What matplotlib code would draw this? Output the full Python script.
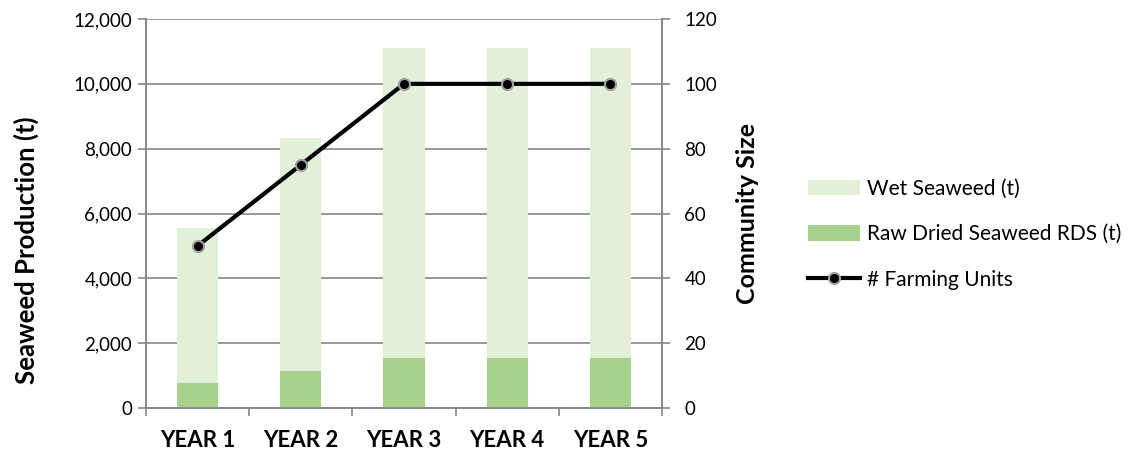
import matplotlib.pyplot as plt
import numpy as np
from matplotlib.ticker import FuncFormatter, FixedLocator
from matplotlib.lines import Line2D
from matplotlib.patches import Patch

years = ["YEAR 1", "YEAR 2", "YEAR 3", "YEAR 4", "YEAR 5"]
wet_seaweed = [5550, 8330, 11100, 11100, 11100]
dried_seaweed = [760, 1150, 1540, 1540, 1540]
farming_units = [50, 75, 100, 100, 100]

plt.rcParams['font.family'] = ['Lato', 'DejaVu Sans']

grey = "#868686"
wet_color = "#e2efd9"
dried_color = "#a9d18e"

fig = plt.figure(figsize=(11.35, 4.55), dpi=100)
ax = fig.add_axes([0.1286, 0.1033, 0.4547, 0.8549])
ax2 = ax.twinx()

x = np.arange(len(years))
width = 0.4
ax.bar(x, wet_seaweed, width=width, color=wet_color, zorder=2)
ax.bar(x, dried_seaweed, width=width, color=dried_color, zorder=3)

ax.set_xlim(-0.5, len(years) - 0.5)
ax.set_ylim(0, 12000)
ax.set_yticks(np.arange(0, 12001, 2000))
ax.yaxis.set_major_formatter(FuncFormatter(lambda v, p: f"{int(v):,}"))
ax.yaxis.grid(True, color=grey, linewidth=1.2, zorder=1)
ax.set_axisbelow(True)

ax.set_xticks(x)
ax.set_xticklabels(years, fontsize=16, fontweight='bold')
ax.xaxis.set_minor_locator(FixedLocator(np.arange(-0.5, len(years), 1.0)))
ax.tick_params(axis='x', which='major', length=0, pad=16)
ax.tick_params(axis='x', which='minor', length=6, color=grey, width=1.2)
ax.tick_params(axis='y', length=6, color=grey, width=1.2, labelsize=13.5, pad=4)
ax.set_ylabel("Seaweed Production (t)", fontsize=18.5, fontweight='bold')
ax.yaxis.set_label_coords(-0.207, 0.405)

ax2.plot(x, farming_units, color='black', linewidth=3, marker='o', markersize=8,
         markerfacecolor='black', markeredgecolor='#a0a0a0', markeredgewidth=1.5, zorder=5)
ax2.set_ylim(0, 120)
ax2.set_yticks(np.arange(0, 121, 20))
ax2.tick_params(axis='y', length=6, color=grey, width=1.2, labelsize=13.5, pad=10)
ax2.set_ylabel("Community Size", fontsize=18, fontweight='bold', labelpad=14)

for a in (ax, ax2):
    a.spines['top'].set_visible(False)
    for side in ('left', 'right', 'bottom'):
        a.spines[side].set_color(grey)
        a.spines[side].set_linewidth(1.2)

handles = [
    Patch(facecolor=wet_color, edgecolor='none', label="Wet Seaweed (t)"),
    Patch(facecolor=dried_color, edgecolor='none', label="Raw Dried Seaweed RDS (t)"),
    Line2D([0], [0], color='black', linewidth=3, marker='o', markersize=8,
           markerfacecolor='black', markeredgecolor='#a0a0a0', markeredgewidth=1.5,
           label="# Farming Units"),
]
fig.legend(handles=handles, loc='center left', bbox_to_anchor=(0.712, 0.485),
           frameon=False, fontsize=15, handlelength=2.5, handleheight=0.75,
           labelspacing=1.22, handletextpad=0.35, borderaxespad=0, borderpad=0)

fig.savefig("out.png", dpi=100)
